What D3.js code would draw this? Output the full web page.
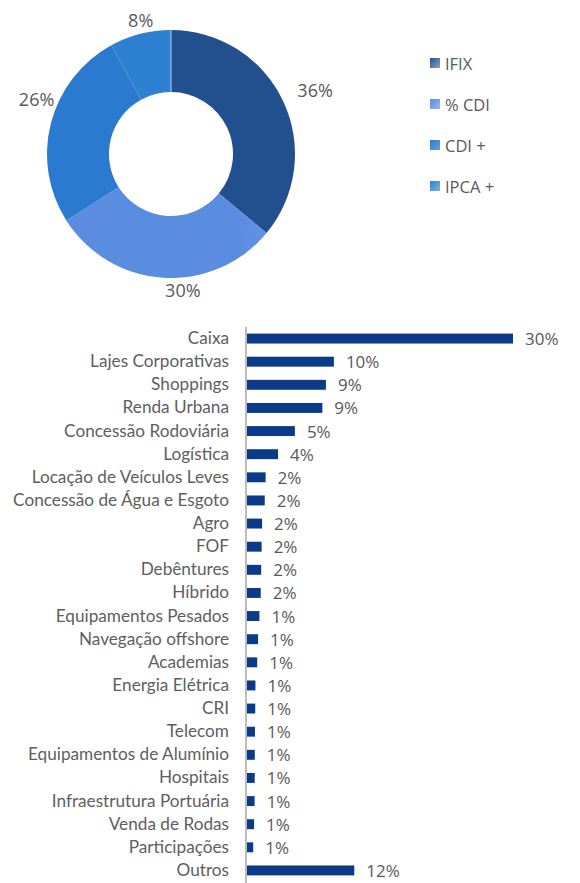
<!DOCTYPE html>
<html>
<head>
<meta charset="utf-8">
<script src="https://cdn.jsdelivr.net/npm/d3@7"></script>
<style>
  html, body { margin: 0; padding: 0; background: #fff; }
  svg { display: block; }
  .axis-y text { font-family: Lato, sans-serif; font-size: 17.2px; fill: #5e5e5e; }
  .axis-y .domain { stroke: #a6a6a6; stroke-width: 1.5; }
</style>
</head>
<body>
<div id="chart"></div>
<script>
// donut data
const indexers = ['IFIX', '% CDI', 'CDI +', 'IPCA +'];
const indexerShares = [36, 30, 26, 8];
const indexerLabels = ['36%', '30%', '26%', '8%'];

// bar data
const sectors = ['Caixa', 'Lajes Corporativas', 'Shoppings', 'Renda Urbana', 'Concessão Rodoviária',
  'Logística', 'Locação de Veículos Leves', 'Concessão de Água e Esgoto', 'Agro', 'FOF',
  'Debêntures', 'Híbrido', 'Equipamentos Pesados', 'Navegação offshore', 'Academias',
  'Energia Elétrica', 'CRI', 'Telecom', 'Equipamentos de Alumínio', 'Hospitais',
  'Infraestrutura Portuária', 'Venda de Rodas', 'Participações', 'Outros'];
const sectorValues = [30, 9.8, 8.9, 8.5, 5.4, 3.5, 2.1, 2.0, 1.7, 1.65, 1.6, 1.55, 1.4, 1.25, 1.15,
  0.95, 0.93, 0.9, 0.88, 0.87, 0.86, 0.8, 0.7, 12.1];
const sectorLabels = ['30%', '10%', '9%', '9%', '5%', '4%', '2%', '2%', '2%', '2%', '2%', '2%',
  '1%', '1%', '1%', '1%', '1%', '1%', '1%', '1%', '1%', '1%', '1%', '12%'];

const W = 580, H = 883;

const svg = d3.select('#chart')
  .append('svg')
  .attr('width', W)
  .attr('height', H);

const defs = svg.append('defs');

// gradients for each slice (dark/light pairs)
const gradients = [
  {id: 'g-ifix', x1: 175, y1: 35, x2: 272, y2: 218, c1: '#22508f', c2: '#8aa2c8'},
  {id: 'g-cdi', x1: 75, y1: 240, x2: 275, y2: 230, c1: '#5a8ce0', c2: '#98b9ee'},
  {id: 'g-cdip', x1: 55, y1: 80, x2: 125, y2: 200, c1: '#2a7bcf', c2: '#62a2da'},
  {id: 'g-ipca', x1: 125, y1: 40, x2: 168, y2: 95, c1: '#2e80d0', c2: '#7cb2df'}
];
gradients.forEach((g, i) => {
  const lg = defs.append('linearGradient')
    .attr('id', g.id)
    .attr('gradientUnits', 'userSpaceOnUse')
    .attr('x1', g.x1).attr('y1', g.y1)
    .attr('x2', g.x2).attr('y2', g.y2);
  lg.append('stop').attr('offset', '0%').attr('stop-color', g.c1);
  lg.append('stop').attr('offset', '100%').attr('stop-color', g.c2);

  // small version for the legend swatches
  const sw = defs.append('linearGradient')
    .attr('id', `lg-${i}`)
    .attr('x1', 0).attr('y1', 0).attr('x2', 1).attr('y2', 1);
  sw.append('stop').attr('offset', '0%').attr('stop-color', g.c1);
  sw.append('stop').attr('offset', '100%').attr('stop-color', g.c2);
});

// ---- donut ----
const cx = 171, cy = 154, rOuter = 124, rInner = 62;

const pie = d3.pie().sort(null).value(d => d);
const arcs = pie(indexerShares);
const arc = d3.arc().innerRadius(rInner).outerRadius(rOuter);
const labelArc = d3.arc().innerRadius(rOuter + 22).outerRadius(rOuter + 22);

const donut = svg.append('g')
  .attr('transform', `translate(${cx},${cy})`);

donut.selectAll('.slice')
  .data(arcs)
  .join('path')
  .attr('class', 'slice')
  .attr('d', arc)
  .attr('fill', (d, i) => `url(#${gradients[i].id})`);

// thin light seam at 12 o'clock
donut.append('line')
  .attr('x1', 0).attr('y1', -rOuter)
  .attr('x2', 0).attr('y2', -rInner)
  .attr('stroke', '#dfe8f5')
  .attr('stroke-width', 0.8);

const labelOffsets = [[12, -2], [21, -10], [7, -19], [6, 7]];
donut.selectAll('.slice-label')
  .data(arcs)
  .join('text')
  .attr('class', 'slice-label')
  .attr('transform', (d, i) => {
    const c = labelArc.centroid(d);
    return `translate(${c[0] + labelOffsets[i][0]},${c[1] + labelOffsets[i][1]})`;
  })
  .attr('text-anchor', 'middle')
  .attr('dominant-baseline', 'central')
  .style('font-family', '"Open Sans", sans-serif')
  .style('font-size', '18px')
  .style('fill', '#595959')
  .text((d, i) => indexerLabels[i]);

// legend
const legendY = d3.scalePoint()
  .domain(indexers)
  .range([63, 186]);

const legendItem = svg.append('g')
  .attr('class', 'legend')
  .selectAll('g')
  .data(indexers)
  .join('g')
  .attr('transform', d => `translate(430,${legendY(d)})`);

legendItem.append('rect')
  .attr('x', 0)
  .attr('y', -5)
  .attr('width', 10)
  .attr('height', 10)
  .attr('fill', (d, i) => `url(#lg-${i})`);

legendItem.append('text')
  .attr('x', 15)
  .attr('dominant-baseline', 'central')
  .style('font-family', '"Open Sans", sans-serif')
  .style('font-size', '16.5px')
  .style('fill', '#595959')
  .text(d => d);

// ---- bars ----
const scaleX = d3.scaleLinear()
  .domain([0, 30])
  .range([247, 513]);

const scaleY = d3.scaleBand()
  .domain(sectors)
  .range([327, 882])
  .paddingInner(0.57)
  .paddingOuter(0.285);

const bars = svg.append('g').attr('class', 'bars');

bars.selectAll('rect')
  .data(sectors)
  .join('rect')
  .attr('x', scaleX(0))
  .attr('y', d => scaleY(d))
  .attr('width', (d, i) => scaleX(sectorValues[i]) - scaleX(0))
  .attr('height', scaleY.bandwidth())
  .attr('fill', '#0b3b88');

bars.selectAll('text')
  .data(sectors)
  .join('text')
  .attr('x', (d, i) => scaleX(sectorValues[i]) + 12)
  .attr('y', d => scaleY(d) + scaleY.bandwidth() / 2)
  .attr('dominant-baseline', 'central')
  .style('font-family', '"Open Sans", sans-serif')
  .style('font-size', '17px')
  .style('fill', '#595959')
  .text((d, i) => sectorLabels[i]);

const axisY = d3.axisLeft(scaleY)
  .tickSize(0)
  .tickPadding(17);

svg.append('g')
  .attr('class', 'axis-y')
  .attr('transform', `translate(${scaleX(0) - 1},0)`)
  .call(axisY)
  .call(g => g.select('.domain').attr('d', 'M0,327V883'));
</script>
</body>
</html>
